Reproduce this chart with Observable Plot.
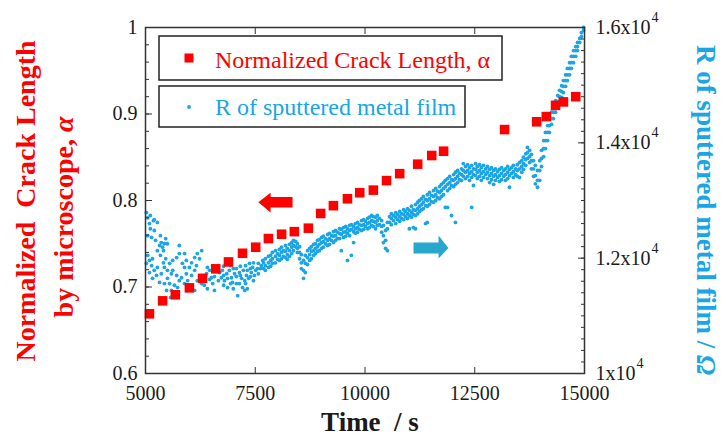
<!DOCTYPE html>
<html><head><meta charset="utf-8">
<script src="https://cdn.jsdelivr.net/npm/d3@7"></script>
<script src="https://cdn.jsdelivr.net/npm/@observablehq/plot@0.6"></script>
<style>body{margin:0;background:#fff}</style>
</head><body><div id="chart"></div>
<script>
// Normalized crack length (left axis)
const crackTime = [5090, 5390, 5680, 6000, 6300, 6600, 6890, 7210, 7510, 7800, 8100, 8390, 8710, 8990, 9280, 9600, 9880, 10190, 10490, 10790, 11200, 11520, 11790, 13180, 13910, 14130, 14340, 14520, 14800];
const crackAlpha = [0.669, 0.684, 0.691, 0.699, 0.710, 0.721, 0.729, 0.739, 0.746, 0.756, 0.761, 0.764, 0.768, 0.785, 0.794, 0.802, 0.809, 0.812, 0.823, 0.831, 0.842, 0.852, 0.857, 0.882, 0.891, 0.897, 0.910, 0.914, 0.920];

// R of sputtered metal film (right axis): [time, R values read at that time...]
const filmColumns = [
[5020,12790,11910],[5050,12700,12390,12050],[5090,12600,11960,11750],[5110,12740,12510],[5140,12360,11870],
[5160,11990,11650],[5180,12650],[5200,12670,12480,11790],[5230,12310],[5250,11700],[5270,12620,12130,11840],
[5320,12220,11580],[5340,12390,12050],[5360,12270,11730],[5390,12190],[5410,12130,11920],[5430,12250,11840,11560],
[5460,12340,11990],[5480,11440],[5500,12250,11790,11650],[5550,11910,11560],[5570,11320],[5590,11730,11440],
[5620,11960,11790],[5640,11370],[5660,11530],[5710,12010,11700],[5730,11490],[5750,11400],[5770,12220,12080,11610],
[5820,11660],[5840,11910],[5890,12080,11840,11560],[5930,11960,11730],[5960,11610,11530],[6000,11840],
[6050,11920,11700,11470],[6120,12010,11790,11440],[6160,11870],[6180,12080,11610],[6230,11990],[6280,12130,11560],
[6340,11610,11530],[6390,11730],[6410,11840,11470],[6460,11790,11630],[6500,11660],[6530,11870,11560],
[6570,11790,11680,11440],[6620,11820],[6660,11870,11610],[6690,11750],[6730,11660],[6750,11790],[6780,11860,11700,11530],
[6800,11610],[6850,11730],[6870,11650,11490],[6910,11790],[6940,11870,11560],[6960,11660],[6980,11580],[7000,11820,11470],
[7030,11730],[7070,11820,11680,11560],[7100,11350],[7140,11750,11560],[7160,11860,11700],[7190,11650],[7210,11490],
[7230,11790],[7260,11610,11440],[7280,11870,11560],[7300,11700],[7320,11790,11470],[7350,11650],[7370,11910],
[7390,11820,11680],[7410,11750],[7440,11840],[7460,11920,11610],[7480,11700],[7510,11790],[7550,11820],[7570,11910,11730],
[7620,11820],[7640,11870],[7670,11960],
[7690,11920,11820],[7730,11990,11870,11790],[7800,12030,11920,11840],[7850,12050,11960,11860],[7890,12100,11990,11910],
[7960,12130,12030,11920],[8010,12080,11980],[8050,12150,12050,11960],[8100,12190,12100,11990],[8140,12130,12030],
[8190,12220,12120,12010],[8230,12170,12060,11980],[8280,12240,12130,12030],[8330,12270,12190,12080],[8370,12310,12220,12130],
[8420,12290,12200],[8460,12250,12170,12100],[8510,12200,12100,11990],[8550,12060,11920,11820],[8600,11960,11790,11650],
[8640,12050,11910,11750],[8690,12130,12010,11890],[8740,12170,12060,11960],[8780,12200,12120,11990],[8830,12240,12130,12050],
[8870,12250,12170,12080],[8920,12310,12200,12120],[8960,12320,12240,12130],[9010,12360,12270,12170],[9050,12380,12290,12190],
[9100,12340,12250],[9150,12410,12310,12220],[9190,12430,12340,12240],[9240,12390,12310],[9280,12460,12380,12270],
[9330,12480,12390,12310],[9370,12450,12340],[9420,12510,12430,12340],[9460,12500,12410,12130],[9510,12530,12450,12360],
[9560,12550,12460,12380],[9600,12510,12430,11960],[9650,12570,12480,12390],[9690,12580,12500,12050],[9740,12550,12460,12270],
[9780,12600,12510,12430],[9830,12620,12530,12450],[9870,12580,12500],[9920,12650,12570,12480],[9970,12670,12580,12500],
[10010,12640,12550],[10060,12690,12600,12510],[10100,12710,12620,12530],[10150,12740,12650,12570],[10190,12720,12640,12550],
[10240,12710,12620,12510],[10280,12740,12650,12570],[10330,12690,12580],[10380,12650,12550,12450],[10420,12570,12390,12270],
[10470,12480,12310,12170],[10510,12620,12510,12130],[10560,12720,12620],[10600,12770,12690,12580],[10650,12740,12650],
[10700,12790,12710,12600],[10740,12760,12670],[10790,12810,12720,12640],[10830,12770,12690],[10880,12840,12760,12670],
[10920,12810,12720],[10970,12860,12770,12690],[11010,12830,12740,12510],[11060,12900,12790,12710],[11100,12840,12760,12530],
[11150,12930,12830,12740,12510],[11200,12970,12860,12770],[11240,13000,12900,12810],[11290,13030,12930,12840],
[11330,13070,12970,12860],[11380,13020,12910,12600],[11420,13100,13000,12900,12620],[11470,13140,13030,12930],
[11510,13090,12980],[11560,13170,13070,12970],[11610,13210,13100,13000],[11650,13160,13050],[11700,13240,13140,13030],
[11740,13280,13170,13070],[11790,13310,13210,13100],[11830,13350,13240,12880],[11880,13380,13280,13170,12880],
[11930,13420,13310,13210],[11970,13360,13260,12740],[12020,13450,13350,13240],[12060,13490,13380,13280,12620],
[12110,13520,13420,13310],[12150,13470,13360],[12200,13550,13450,13350],[12240,13640,13520,13420],[12290,13590,13490,13380],
[12340,13620,13520,13420],[12380,13570,13470,13350],[12430,13610,13500,13400,12880],[12470,13550,13450,13260],
[12520,13640,13540,13430],[12560,13590,13490,13380],[12610,13620,13520,13420],[12650,13570,13470,13350],
[12700,13610,13500,13400],[12750,13550,13450],[12790,13590,13490,13380],[12840,13540,13430,13310],[12880,13570,13470,13360],
[12930,13520,13420,13280],[12970,13550,13450,13350],[13020,13500,13400],[13060,13540,13430,13330],[13110,13570,13470,13360],
[13160,13520,13420],[13200,13550,13450,13350],[13250,13590,13490,13380],[13290,13540,13430,13230],[13340,13570,13470],
[13380,13610,13500,13400],[13430,13550,13450],[13470,13620,13520,13420],[13520,13660,13550,13400],[13570,13690,13590,13490],
[13610,13750,13640,13540],[13660,13810,13710,13610],[13700,13920,13830,13730],[13750,13870,13760,13660],[13790,13800,13690,13550],
[13840,13690,13550,13420],[13880,13610,13430,13290],[13930,13520,13350,13230],[13980,13690,13520,13350],[14020,13870,13730,13590],
[14070,14040,13900,13760],[14110,14180,14040,13900],[14160,14300,14180,14040],[14200,14420,14300,14180],[14250,14530,14420,14320],
[14290,14630,14530,14420],[14340,14730,14630,14530],[14390,14820,14720,14610],[14430,14910,14800,14700],[14480,14990,14890,14790],
[14520,15080,14980,14870],[14570,15180,15080,14980],[14610,15290,15180,15080],[14660,15390,15290,15180],[14700,15500,15390,15290],
[14750,15600,15500,15390],[14800,15670,15600,15500],[14840,15740,15670,15600],[14890,15810,15740],[14930,15910,15840],[14980,16000,15950]
];

// Axis ticks and labels
const xTicks = [5000, 7500, 10000, 12500, 15000];
const xTopTicks = [7500, 10000, 12500];
const leftTicks = [0.6, 0.7, 0.8, 0.9, 1];
const leftTickLabels = ["0.6", "0.7", "0.8", "0.9", "1"];
const rightTicksR = [10000, 12000, 14000, 16000];
const rightTickLabels = ["1x10", "1.2x10", "1.4x10", "1.6x10"];
const rightTickExponent = "4";

// Annotation arrows (time, alpha)
const redArrow = [[7570,0.798],[7850,0.809],[7850,0.804],[8350,0.804],[8350,0.792],[7850,0.792],[7850,0.786]];
const tealArrow = [[11105,0.7514],[11675,0.7514],[11675,0.7595],[11900,0.745],[11675,0.7329],[11675,0.7387],[11105,0.7387]];

const RED = "#ff0000", BLUE = "#19a5e6", TEAL = "#27a8ca", INK = "#1a1a1a";
const FONT = "'Liberation Serif', 'Times New Roman', serif";
const rToY = r => 0.6 + (r - 10000) / 6000 * 0.4;

const crack = crackTime.map((t, i) => ({t, a: crackAlpha[i]}));
const film = filmColumns.flatMap(([t, ...rs]) => rs.map(r => ({t, r})));
const leftMinor = d3.range(30, 51).map(k => k / 50);
const rightMinor = d3.range(50, 81).map(k => rToY(k * 200));
const rightMajor = rightTicksR.map(rToY);

const axisCommon = {label: null, stroke: "#333", fontFamily: FONT, fontSize: 20, fill: INK};

const svg = Plot.plot({
  width: 721, height: 437,
  marginLeft: 145, marginRight: 137, marginTop: 27, marginBottom: 64,
  x: {domain: [5000, 15000], label: null},
  y: {domain: [0.6, 1], label: null},
  style: {fontFamily: FONT, fontSize: "20px", color: INK, background: "white", overflow: "visible"},
  marks: [
    Plot.dot(film, {x: "t", y: d => rToY(d.r), r: 1.9, fill: BLUE, stroke: "none"}),
    Plot.dot(crack, {x: "t", y: "a", symbol: "square", r: 5.4, fill: RED, stroke: "none"}),
    Plot.line(redArrow, {x: d => d[0], y: d => d[1], fill: RED, stroke: "none"}),
    Plot.line(tealArrow, {x: d => d[0], y: d => d[1], fill: TEAL, stroke: "none"}),
    Plot.frame({stroke: "#333", strokeWidth: 1.5}),
    Plot.axisX({...axisCommon, anchor: "bottom", ticks: xTicks, tickFormat: d => String(d), tickSize: -6, tickPadding: 18}),
    Plot.axisX({...axisCommon, anchor: "top", ticks: xTopTicks, tickFormat: () => "", tickSize: -6}),
    Plot.axisY({...axisCommon, anchor: "left", ticks: leftTicks, tickFormat: d => leftTickLabels[leftTicks.findIndex(v => Math.abs(v - d) < 1e-6)], tickSize: -7, tickPadding: 15}),
    Plot.axisY({...axisCommon, anchor: "left", ticks: leftMinor, tickFormat: () => "", tickSize: -4}),
    Plot.axisY({...axisCommon, anchor: "right", ticks: rightMajor, tickFormat: d => rightTickLabels[rightMajor.findIndex(v => Math.abs(v - d) < 1e-6)], tickSize: -7, tickPadding: 18, textAnchor: "start"}),
    Plot.axisY({...axisCommon, anchor: "right", ticks: rightMinor, tickFormat: () => "", tickSize: -4})
  ]
});

document.getElementById("chart").appendChild(svg);
const s = d3.select(svg);

// superscript exponent on right tick labels
s.selectAll("text").filter(function () { return /x10$/.test(this.textContent); })
  .append("tspan").attr("dy", -12).attr("dx", 1).style("font-size", "14px").text(rightTickExponent);

function addText(sel) {
  return sel.append("text").style("font-family", FONT).attr("text-anchor", "start");
}

// axis titles
addText(s).attr("transform", "translate(25,201) rotate(-90)")
  .attr("text-anchor", "middle").attr("dominant-baseline", "central")
  .style("font-weight", "bold").style("font-size", "28px")
  .attr("fill", RED).text("Normalized  Crack Length");
const t2 = addText(s).attr("transform", "translate(63,217) rotate(-90)")
  .attr("text-anchor", "middle").attr("dominant-baseline", "central")
  .style("font-weight", "bold").style("font-size", "28px").attr("fill", RED);
t2.append("tspan").text("by microscope, ");
t2.append("tspan").style("font-style", "italic").text("α");

const t3 = addText(s).attr("transform", "translate(706,210) rotate(90)")
  .attr("text-anchor", "middle").attr("dominant-baseline", "central")
  .style("font-weight", "bold").style("font-size", "27px").attr("fill", BLUE);
t3.append("tspan").text("R of sputtered metal film / ");
t3.append("tspan").style("font-style", "italic").text("Ω");

addText(s).attr("x", 370).attr("y", 431).attr("text-anchor", "middle")
  .style("font-weight", "bold").style("font-size", "27px")
  .attr("fill", INK).text("Time  / s");

// legend
const lg = s.append("g");
lg.append("rect").attr("x", 159).attr("y", 36).attr("width", 343).attr("height", 44)
  .attr("fill", "white").attr("stroke", "#222").attr("stroke-width", 1.5);
lg.append("rect").attr("x", 159).attr("y", 86).attr("width", 306).attr("height", 41)
  .attr("fill", "white").attr("stroke", "#222").attr("stroke-width", 1.5);
lg.append("rect").attr("x", 184.5).attr("y", 53.5).attr("width", 9).attr("height", 9).attr("fill", RED);
addText(lg).attr("x", 215).attr("y", 68).style("font-size", "24px").attr("fill", RED).text("Normalized Crack Length, α");
lg.append("circle").attr("cx", 189).attr("cy", 107).attr("r", 1.9).attr("fill", BLUE);
addText(lg).attr("x", 215).attr("y", 115).style("font-size", "24px").attr("fill", BLUE).text("R of sputtered metal film");
</script>
</body></html>
